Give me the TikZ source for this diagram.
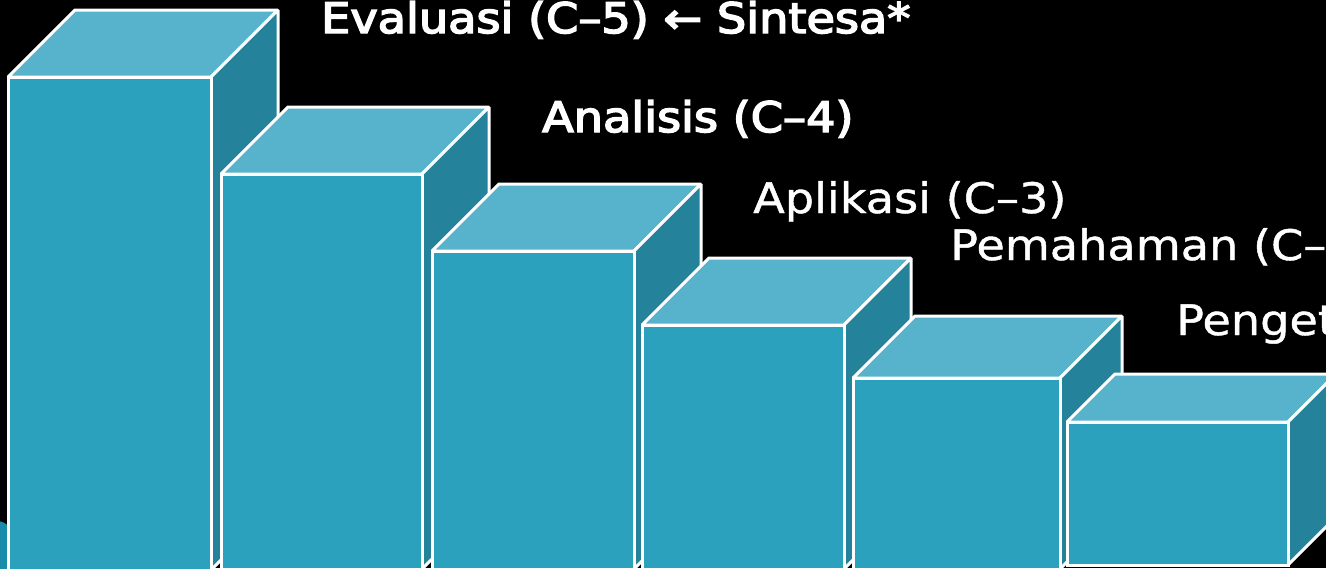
\documentclass[tikz,border=0pt]{standalone}
\usepackage{fontspec}
\setmainfont{DejaVu Sans}
\newfontfamily\lblfont[FakeBold=1]{DejaVu Sans}
\newfontfamily\lblbold[FakeBold=3.5]{DejaVu Sans}
\definecolor{frontc}{RGB}{44,161,190}
\definecolor{topc}{RGB}{86,179,203}
\definecolor{sidec}{RGB}{36,131,155}
\definecolor{blobc}{RGB}{24,140,170}
\tikzset{
  face/.style={draw=white, line width=3pt, line join=miter, miter limit=2},
  lbl/.style={anchor=base west, inner sep=0pt, text=white, font=\lblfont\fontsize{42}{50}\selectfont},
  lblb/.style={anchor=base west, inner sep=0pt, text=white, font=\lblbold\fontsize{42}{50}\selectfont}
}
\newcommand{\cuboid}[5]{% x1, x2, top, depth, bottom
  \fill[face, fill=topc] (#1,#3) -- ({#1+#4},{#3-#4}) -- ({#2+#4},{#3-#4}) -- (#2,#3) -- cycle;
  \fill[face, fill=sidec] (#2,#3) -- ({#2+#4},{#3-#4}) -- ({#2+#4},{#5-#4}) -- (#2,#5) -- cycle;
  \fill[face, fill=frontc] (#1,#3) rectangle (#2,#5);
}
\begin{document}
\begin{tikzpicture}[x=1pt, y=-1pt]
\useasboundingbox (0,0) rectangle (1326,568);
\clip (0,0) rectangle (1326,568);
\fill[black] (0,0) rectangle (1326,568);
% small teal patch at left edge
\fill[blobc] (-2,521) .. controls (3,522) .. (9,526) -- (9,570) -- (-2,570) -- cycle;
% boxes, left to right
\cuboid{8}{211}{77}{67}{570}
\cuboid{221}{422}{174}{67}{569}
\cuboid{432}{634}{251}{67}{569}
\cuboid{642}{844}{325}{67}{569}
\cuboid{853}{1060}{378}{62}{569}
\cuboid{1067}{1288}{422}{48}{565}
% labels
\node[lblb] (c5) at (321,33) {\scalebox{1.1}[1]{Evaluasi (C–5) ← Sintesa*}};
\node[lblb] (c4) at (542,132) {\scalebox{1.1}[1]{Analisis (C–4)}};
\node[lbl] (c3) at (753,213) {\scalebox{1.1}[1]{Aplikasi (C–3)}};
\node[lbl] (c2) at (950,260) {\scalebox{1.1}[1]{Pemahaman (C–2)}};
\node[lbl] (c1) at (1176,335) {\scalebox{1.1}[1]{Pengetahuan (C–1)}};
\end{tikzpicture}
\end{document}
